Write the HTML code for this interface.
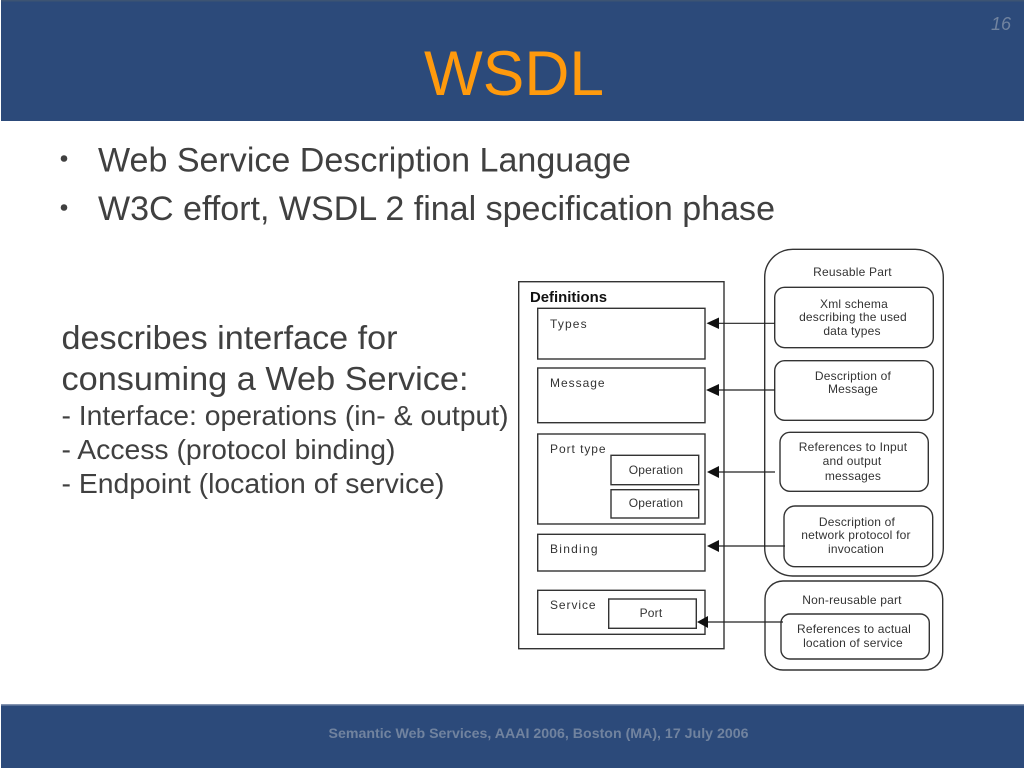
<!DOCTYPE html>
<html><head><meta charset="utf-8"><title>WSDL</title>
<style>html,body{margin:0;padding:0;background:#fff}svg{display:block}
text{font-family:"Liberation Sans",sans-serif}
.d{font-size:12px;fill:#333;text-anchor:middle;letter-spacing:.2px}
.l{font-size:12px;fill:#333;letter-spacing:.4px}
.b{fill:#fff;stroke:#333;stroke-width:1.4}
.a{stroke:#222;stroke-width:1.2;fill:none}
.t{fill:#404040}
</style></head><body>
<svg width="1024" height="768" viewBox="0 0 1024 768" xmlns="http://www.w3.org/2000/svg">
<rect width="1024" height="768" fill="#fff"/>
<rect x="1" y="0" width="1023" height="121" fill="#2c4a7a"/>
<rect x="1" y="0" width="1023" height="1.5" fill="#3d5473"/>
<rect x="1" y="705" width="1023" height="63" fill="#2c4a7a"/>
<rect x="1" y="704" width="1023" height="1.5" fill="#8494b0"/>
<text x="514" y="95" font-size="63" fill="#ff9a0d" text-anchor="middle" textLength="180" lengthAdjust="spacingAndGlyphs">WSDL</text>
<text x="1011" y="30" font-size="18" font-style="italic" fill="#71839f" text-anchor="end">16</text>
<text x="538.500" y="738" font-size="13.500" font-weight="bold" fill="#71839f" text-anchor="middle" textLength="420" lengthAdjust="spacingAndGlyphs">Semantic Web Services, AAAI 2006, Boston (MA), 17 July 2006</text>

<circle cx="64" cy="158.500" r="3.300" fill="#404040"/>
<circle cx="64" cy="207.500" r="3.300" fill="#404040"/>
<text class="t" x="98" y="171.500" font-size="34.500" textLength="533" lengthAdjust="spacingAndGlyphs">Web Service Description Language</text>
<text class="t" x="98" y="220" font-size="34.500" textLength="677" lengthAdjust="spacingAndGlyphs">W3C effort, WSDL 2 final specification phase</text>
<text class="t" x="61.500" y="349" font-size="33" textLength="336" lengthAdjust="spacingAndGlyphs">describes interface for</text>
<text class="t" x="61.500" y="390" font-size="33" textLength="407" lengthAdjust="spacingAndGlyphs">consuming a Web Service:</text>
<text class="t" x="61.500" y="425" font-size="28" textLength="447" lengthAdjust="spacingAndGlyphs">- Interface: operations (in- &amp; output)</text>
<text class="t" x="61.500" y="459" font-size="28" textLength="334" lengthAdjust="spacingAndGlyphs">- Access (protocol binding)</text>
<text class="t" x="61.500" y="493" font-size="28" textLength="383" lengthAdjust="spacingAndGlyphs">- Endpoint (location of service)</text>

<rect class="b" x="518.700" y="281.700" width="205.300" height="367"/>
<text x="530" y="302" font-size="15" font-weight="bold" fill="#111" textLength="77" lengthAdjust="spacingAndGlyphs">Definitions</text>
<rect class="b" x="537.700" y="308.300" width="167.300" height="50.700"/>
<rect class="b" x="537.700" y="368" width="167.300" height="54.700"/>
<rect class="b" x="537.700" y="434" width="167.300" height="90"/>
<rect class="b" x="611" y="455.300" width="87.700" height="29.400"/>
<rect class="b" x="611" y="489.700" width="87.700" height="28.300"/>
<rect class="b" x="537.700" y="534.300" width="167.300" height="36.700"/>
<rect class="b" x="537.700" y="590.300" width="167.300" height="44"/>
<rect class="b" x="608.700" y="599" width="87.600" height="29.300"/>
<text class="l" x="550" y="328" textLength="37">Types</text>
<text class="l" x="550" y="387" textLength="55">Message</text>
<text class="l" x="550" y="453" textLength="56">Port type</text>
<text class="l" x="550" y="553" textLength="48">Binding</text>
<text class="l" x="550" y="609" textLength="46">Service</text>
<text class="d" x="656" y="474">Operation</text>
<text class="d" x="656" y="507">Operation</text>
<text class="d" x="651" y="617">Port</text>

<rect class="b" x="764.700" y="249.300" width="178.600" height="326.700" rx="28" ry="28"/>
<rect class="b" x="765" y="581" width="177.700" height="89" rx="18" ry="18"/>
<rect class="b" x="774.700" y="287.300" width="158.600" height="60.400" rx="10"/>
<rect class="b" x="774.700" y="360.700" width="158.600" height="59.600" rx="10"/>
<rect class="b" x="780" y="432.300" width="148.300" height="59" rx="10"/>
<rect class="b" x="784" y="506" width="148.700" height="60.700" rx="11"/>
<rect class="b" x="781" y="614" width="148.300" height="45" rx="9"/>

<path class="a" d="M718 323.300H775M718 390H775M718 472H775M718 546H785M708 622H783"/>
<g fill="#111">
<path d="M706.500 323.300L719 317.500V329Z"/>
<path d="M706 390L719 384V396Z"/>
<path d="M707 472L719 466V478Z"/>
<path d="M707 546L719 540V552Z"/>
<path d="M697 622L708 616V628Z"/>
</g>

<text class="d" x="852.500" y="276">Reusable Part</text>
<text class="d" x="854" y="308">Xml schema</text>
<text class="d" x="853" y="321">describing the used</text>
<text class="d" x="852" y="335">data types</text>
<text class="d" x="853" y="380">Description of</text>
<text class="d" x="853" y="393">Message</text>
<text class="d" x="853" y="451">References to Input</text>
<text class="d" x="852" y="465">and output</text>
<text class="d" x="853" y="480">messages</text>
<text class="d" x="857" y="526">Description of</text>
<text class="d" x="856" y="539">network protocol for</text>
<text class="d" x="856" y="553">invocation</text>
<text class="d" x="852" y="604">Non-reusable part</text>
<text class="d" x="854" y="633">References to actual</text>
<text class="d" x="853" y="647">location of service</text>
</svg>
</body></html>
